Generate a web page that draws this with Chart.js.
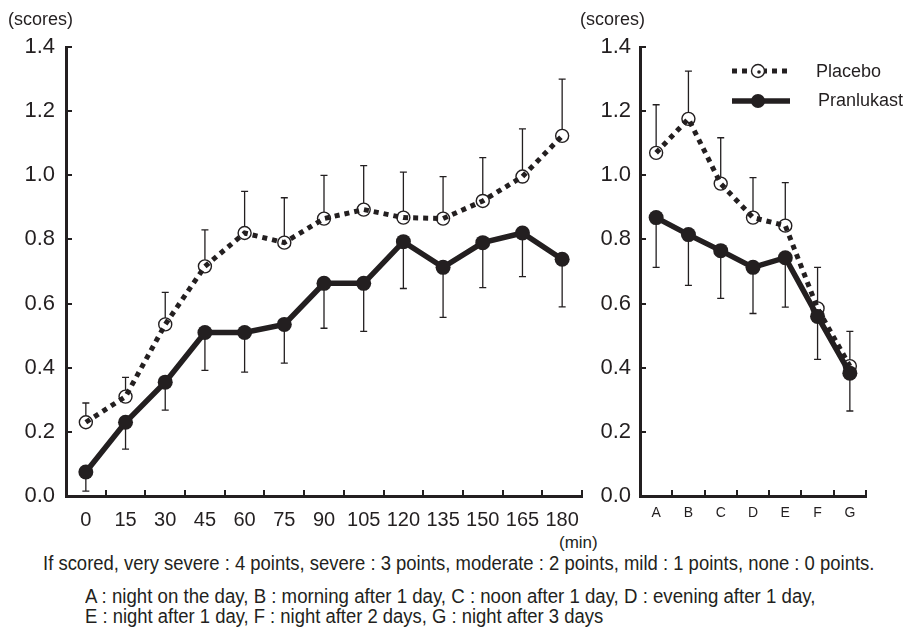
<!DOCTYPE html>
<html>
<head>
<meta charset="utf-8">
<script src="https://cdn.jsdelivr.net/npm/chart.js@4"></script>
<style>
  body { margin: 0; background: #fff; width: 904px; height: 628px; position: relative; overflow: hidden;
         font-family: "Liberation Sans", Arial, sans-serif; color: #231f20; }
  canvas { position: absolute; top: 0; }
  .txt { position: absolute; white-space: nowrap; line-height: 1; transform-origin: 0 50%; }
</style>
</head>
<body>
<canvas id="leftChart" width="600" height="530" style="left:0"></canvas>
<canvas id="rightChart" width="304" height="530" style="left:600px"></canvas>

<div class="txt" style="left:8px; top:10px; font-size:18px">(scores)</div>
<div class="txt" style="left:580px; top:10px; font-size:18px">(scores)</div>
<div class="txt" style="left:559px; top:534px; font-size:17px">(min)</div>
<div class="txt fit" data-w="831" style="left:43px; top:553px; font-size:20px">If scored, very severe : 4 points, severe : 3 points, moderate : 2 points, mild : 1 points, none : 0 points.</div>
<div class="txt fit" data-w="730" style="left:85px; top:586px; font-size:20px">A : night on the day, B : morning after 1 day, C : noon after 1 day, D : evening after 1 day,</div>
<div class="txt fit" data-w="518" style="left:85px; top:606px; font-size:20px">E : night after 1 day, F : night after 2 days, G : night after 3 days</div>

<script>
// data
const minutes = ["0", "15", "30", "45", "60", "75", "90", "105", "120", "135", "150", "165", "180"]
const placeboMin = [0.23, 0.31, 0.535, 0.716, 0.82, 0.79, 0.865, 0.893, 0.868, 0.865, 0.92, 0.996, 1.123]
const placeboMinUpper = [0.29, 0.37, 0.635, 0.83, 0.95, 0.93, 1.0, 1.03, 1.01, 0.996, 1.055, 1.145, 1.30]
const pranMin = [0.075, 0.23, 0.355, 0.51, 0.51, 0.535, 0.663, 0.663, 0.793, 0.713, 0.79, 0.82, 0.738]
const pranMinLower = [0.015, 0.146, 0.268, 0.392, 0.386, 0.414, 0.523, 0.513, 0.647, 0.557, 0.65, 0.684, 0.59]

const days = ["A", "B", "C", "D", "E", "F", "G"]
const placeboDay = [1.07, 1.176, 0.974, 0.868, 0.843, 0.585, 0.405]
const placeboDayUpper = [1.22, 1.325, 1.117, 0.993, 0.977, 0.713, 0.513]
const pranDay = [0.868, 0.815, 0.765, 0.713, 0.743, 0.56, 0.383]
const pranDayLower = [0.713, 0.657, 0.616, 0.569, 0.589, 0.426, 0.265]

const INK = '#231f20'
Chart.defaults.font.family = '"Liberation Sans", Arial, sans-serif'
Chart.defaults.color = INK

// error bars: placebo goes up, pranlukast goes down
const errorBars = {
  id: 'errorBars',
  beforeDatasetsDraw(chart) {
    const ctx = chart.ctx
    const y = chart.scales.y
    ctx.save()
    ctx.strokeStyle = INK
    ctx.lineWidth = 1.3
    chart.data.datasets.forEach((ds, di) => {
      const meta = chart.getDatasetMeta(di)
      meta.data.forEach((pt, i) => {
        const from = y.getPixelForValue(ds.data[i])
        const to = y.getPixelForValue(ds.errorTo[i])
        const start = ds.errorTo[i] > ds.data[i] ? from - ds.pointRadius : from
        ctx.beginPath()
        ctx.moveTo(pt.x, start)
        ctx.lineTo(pt.x, to)
        ctx.moveTo(pt.x - 3.5, to)
        ctx.lineTo(pt.x + 3.5, to)
        ctx.stroke()
      })
    })
    ctx.restore()
  }
}

// tick marks pointing into the plot, like the printed figure
const innerTicks = {
  id: 'innerTicks',
  afterDraw(chart) {
    const ctx = chart.ctx
    const x = chart.scales.x
    const y = chart.scales.y
    const area = chart.chartArea
    ctx.save()
    ctx.strokeStyle = INK
    ctx.lineWidth = 2
    ctx.beginPath()
    for (let i = 0; i <= x.ticks.length; i++) {
      const px = Math.round(x.getPixelForValue(i - 0.5))
      ctx.moveTo(px, area.bottom)
      ctx.lineTo(px, area.bottom - 6)
    }
    y.ticks.forEach(t => {
      const py = Math.round(y.getPixelForValue(t.value))
      ctx.moveTo(area.left, py)
      ctx.lineTo(area.left + 6, py)
    })
    ctx.stroke()
    ctx.restore()
  }
}

// legend in the right panel
const sideLegend = {
  id: 'sideLegend',
  afterDraw(chart) {
    const ctx = chart.ctx
    ctx.save()
    ctx.strokeStyle = INK
    ctx.fillStyle = INK
    // placebo sample
    ctx.lineWidth = 5
    ctx.setLineDash([5, 5])
    ctx.beginPath(); ctx.moveTo(132, 71); ctx.lineTo(190, 71); ctx.stroke()
    ctx.setLineDash([])
    ctx.lineWidth = 1.4
    ctx.fillStyle = '#fff'
    ctx.beginPath(); ctx.arc(158, 71, 6.5, 0, Math.PI * 2); ctx.fill(); ctx.stroke()
    ctx.fillStyle = INK
    ctx.beginPath(); ctx.arc(159, 72, 1.8, 0, Math.PI * 2); ctx.fill()
    // pranlukast sample
    ctx.lineWidth = 5.5
    ctx.beginPath(); ctx.moveTo(132, 101); ctx.lineTo(190, 101); ctx.stroke()
    ctx.beginPath(); ctx.arc(158, 101, 7, 0, Math.PI * 2); ctx.fill()
    ctx.font = '18px "Liberation Sans", Arial, sans-serif'
    ctx.textBaseline = 'middle'
    ctx.fillText('Placebo', 216, 72)
    ctx.fillText('Pranlukast', 218, 101)
    ctx.restore()
  }
}

function makeChart(id, labels, placebo, placeboUp, pran, pranLow, opts) {
  const ctx = document.getElementById(id).getContext('2d')
  return new Chart(ctx, {
    type: 'line',
    data: {
      labels: labels,
      datasets: [{
        label: 'Pranlukast',
        data: pran,
        errorTo: pranLow,
        order: 0,
        borderColor: INK,
        borderWidth: 5.5,
        pointRadius: 7.5,
        pointBackgroundColor: INK,
        pointBorderColor: INK,
        pointBorderWidth: 0,
        tension: 0
      }, {
        label: 'Placebo',
        data: placebo,
        errorTo: placeboUp,
        order: 1,
        borderColor: INK,
        borderWidth: 5,
        borderDash: [5, 5],
        pointRadius: 6.5,
        pointBackgroundColor: 'rgba(0,0,0,0)',
        pointBorderColor: INK,
        pointBorderWidth: 1.4,
        tension: 0
      }]
    },
    options: {
      responsive: false,
      animation: false,
      events: [],
      layout: { padding: { left: 0, top: 47, right: opts.padRight, bottom: 0 } },
      plugins: { legend: { display: false }, tooltip: { enabled: false } },
      scales: {
        x: {
          type: 'category',
          offset: true,
          grid: { offset: true, drawOnChartArea: false, drawTicks: false },
          border: { color: INK, width: 3 },
          ticks: { padding: opts.xPad, font: { size: opts.xFont }, color: INK, maxRotation: 0, autoSkip: false },
          afterFit: s => { s.height = 34 }
        },
        y: {
          min: 0,
          max: 1.4,
          grid: { drawOnChartArea: false, drawTicks: false },
          border: { color: INK, width: 3 },
          ticks: { stepSize: 0.2, padding: opts.yPad, font: { size: 22 }, color: INK,
                   callback: v => v.toFixed(1) },
          afterFit: s => { s.width = opts.yWidth }
        }
      }
    },
    plugins: opts.legend ? [errorBars, innerTicks, sideLegend] : [errorBars, innerTicks]
  })
}

makeChart('leftChart', minutes, placeboMin, placeboMinUpper, pranMin, pranMinLower,
  { padRight: 18, yWidth: 66, yPad: 11, xPad: 12, xFont: 20, legend: false })
makeChart('rightChart', days, placeboDay, placeboDayUpper, pranDay, pranDayLower,
  { padRight: 38, yWidth: 40, yPad: 9, xPad: 9, xFont: 14, legend: true })

// squeeze the caption lines to the printed widths
document.querySelectorAll('.fit').forEach(el => {
  const k = el.dataset.w / el.offsetWidth
  el.style.transform = 'scaleX(' + k + ')'
})
</script>
</body>
</html>
